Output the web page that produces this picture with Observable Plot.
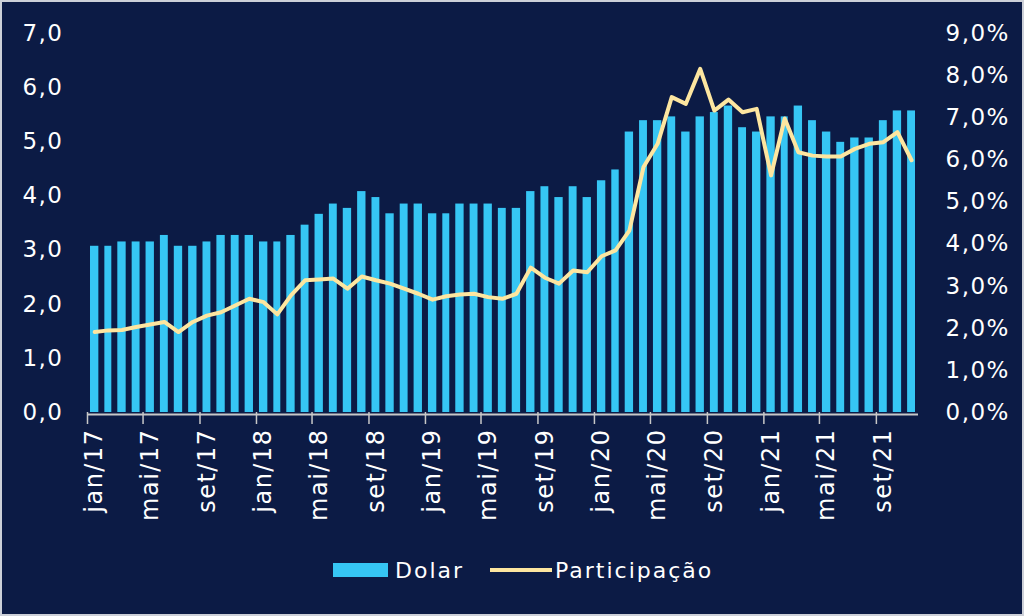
<!DOCTYPE html>
<html>
<head>
<meta charset="utf-8">
<script src="https://cdn.jsdelivr.net/npm/d3@7"></script>
<script src="https://cdn.jsdelivr.net/npm/@observablehq/plot@0.6"></script>
<style>
  html, body { margin: 0; padding: 0; background: #0c1b45; }
  #wrap { position: relative; width: 1024px; height: 616px; background: #0c1b45; overflow: hidden; }
  #frame { position: absolute; left: 0; top: 0; width: 1024px; height: 616px; box-sizing: border-box; border: 2px solid #cdd0d8; pointer-events: none; }
  #chart svg text { letter-spacing: 1.5px; }
  #legend { position: absolute; left: 333px; top: 553px; height: 34px; display: flex; align-items: center;
            font-family: "DejaVu Sans", sans-serif; font-size: 22px; letter-spacing: 2px; color: #ffffff; }
  .sw-bar { width: 55px; height: 14px; background: #36c6f4; margin-right: 7px; }
  .sw-line { width: 62px; height: 4px; background: #fde6a0; margin-left: 26px; margin-right: 3px; }
</style>
</head>
<body>
<div id="wrap">
  <div id="chart"></div>
  <div id="legend">
    <div class="sw-bar"></div><span>Dolar</span>
    <div class="sw-line"></div><span>Participação</span>
  </div>
  <div id="frame"></div>
</div>
<script>
const monthNames = ["jan","fev","mar","abr","mai","jun","jul","ago","set","out","nov","dez"];
const dolar = [
  3.07, 3.07, 3.15, 3.15, 3.15, 3.27, 3.07, 3.07, 3.15, 3.27, 3.27, 3.27,
  3.15, 3.15, 3.27, 3.46, 3.66, 3.85, 3.77, 4.08, 3.97, 3.67, 3.85, 3.85,
  3.67, 3.67, 3.85, 3.85, 3.85, 3.77, 3.77, 4.08, 4.17, 3.97, 4.17, 3.97,
  4.28, 4.48, 5.18, 5.39, 5.39, 5.46, 5.18, 5.46, 5.54, 5.66, 5.26, 5.18,
  5.46, 5.46, 5.66, 5.39, 5.18, 4.99, 5.07, 5.07, 5.39, 5.57, 5.57
];
const participacao = [
  1.91, 1.95, 1.96, 2.03, 2.09, 2.15, 1.91, 2.15, 2.30, 2.38, 2.54, 2.70,
  2.62, 2.33, 2.78, 3.14, 3.16, 3.18, 2.94, 3.23, 3.14, 3.06, 2.94, 2.82,
  2.68, 2.76, 2.80, 2.82, 2.74, 2.70, 2.82, 3.44, 3.20, 3.06, 3.37, 3.33,
  3.71, 3.85, 4.32, 5.83, 6.38, 7.49, 7.33, 8.16, 7.17, 7.43, 7.13, 7.21,
  5.63, 6.98, 6.18, 6.10, 6.08, 6.08, 6.26, 6.38, 6.42, 6.66, 5.99
];
const leftTicks = [0, 1, 2, 3, 4, 5, 6, 7];
const rightTicks = [0, 1, 2, 3, 4, 5, 6, 7, 8, 9];

const start = new Date(Date.UTC(2017, 0, 1));
const end = d3.utcMonth.offset(start, dolar.length);
const dates = d3.utcMonth.range(start, end);
const tickDates = dates.filter((d, i) => i % 4 === 0);
const k = 7 / 9; // right axis (0–9%) mapped onto left axis (0–7)

const rows = dates.map((date, i) => ({
  date,
  next: d3.utcMonth.offset(date, 1),
  mid: new Date((+date + +d3.utcMonth.offset(date, 1)) / 2),
  dolar: dolar[i],
  part: participacao[i]
}));

const fmtMonth = d => monthNames[d.getUTCMonth()] + "/" + String(d.getUTCFullYear()).slice(2);

const chart = Plot.plot({
  width: 1024,
  height: 545,
  marginLeft: 87,
  marginRight: 106,
  marginTop: 33,
  marginBottom: 133,
  x: { type: "utc", domain: [start, end], label: null },
  y: { domain: [0, 7], label: null },
  style: { background: "transparent", color: "#ffffff", fontFamily: "'DejaVu Sans', sans-serif", fontSize: "23px" },
  marks: [
    Plot.rectY(rows, { x1: "date", x2: "next", y: "dolar", fill: "#36c6f4", insetLeft: 3, insetRight: 3 }),
    Plot.ruleY([0], { stroke: "#c8c8c8", strokeWidth: 2, dy: 2 }),
    Plot.axisX(tickDates, { tickSize: 12, tickFormat: () => "", stroke: "#c8c8c8", strokeWidth: 1.5, label: null }),
    Plot.axisX(tickDates, { tickSize: 0, tickRotate: -90, tickPadding: 16, dx: 7, tickFormat: fmtMonth, fontSize: 24, fill: "#ffffff", label: null }),
    Plot.axisY(leftTicks, { anchor: "left", tickSize: 0, tickPadding: 24, tickFormat: d => d.toFixed(1).replace(".", ","), fontSize: 23, fill: "#ffffff", label: null }),
    Plot.axisY(rightTicks.map(v => v * k), { anchor: "right", tickSize: 0, tickPadding: 27, tickFormat: d => (d / k).toFixed(1).replace(".", ",") + "%", fontSize: 23, fill: "#ffffff", label: null }),
    Plot.line(rows, { x: "mid", y: d => d.part * k, stroke: "#fde6a0", strokeWidth: 4, strokeLinejoin: "round", strokeLinecap: "round" })
  ]
});
document.getElementById("chart").appendChild(chart);
</script>
</body>
</html>
